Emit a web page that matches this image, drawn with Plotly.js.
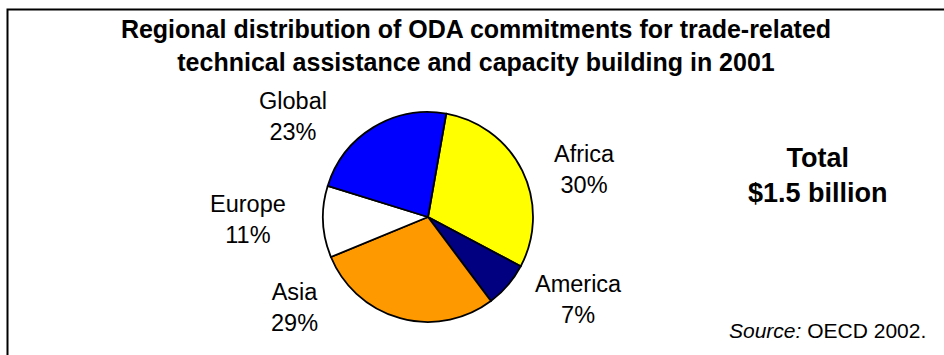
<!DOCTYPE html>
<html>
<head>
<meta charset="utf-8">
<script src="https://cdn.plot.ly/plotly-3.0.1.min.js"></script>
<style>html,body{margin:0;padding:0;background:#fff;}#chart{width:944px;height:355px;}</style>
</head>
<body>
<div id="chart"></div>
<script>
const regions = ["Africa", "America", "Asia", "Europe", "Global"];
const shares = [30, 7, 29, 11, 23];
const sliceColors = ["#FFFF00", "#000080", "#FF9900", "#FFFFFF", "#0000FF"];
const titleLines = ["Regional distribution of ODA commitments for trade-related",
                    "technical assistance and capacity building in 2001"];
const totalLines = ["Total", "$1.5 billion"];
const sourceText = ["Source:", "OECD 2002."];

const W = 944, H = 355;
const px = x => x / W;
const py = y => 1 - y / H;

// label centre positions in pixels (layout only)
const labelPos = {
  "Africa":  [584, 169],
  "America": [578, 299],
  "Asia":    [294, 307],
  "Europe":  [248, 220],
  "Global":  [293, 116]
};

const FONT = "Liberation Sans, Arial, Helvetica, sans-serif";

const annotations = regions.map((r, i) => ({
  text: r + "<br>" + shares[i] + "%",
  x: px(labelPos[r][0]), y: py(labelPos[r][1]),
  xref: "paper", yref: "paper", xanchor: "center", yanchor: "middle",
  showarrow: false, align: "center",
  font: {family: FONT, size: 23.5, color: "#000"}
}));

annotations.push({
  text: "<b>" + totalLines[0] + "<br>" + totalLines[1] + "</b>",
  x: px(818), y: py(175), xref: "paper", yref: "paper",
  xanchor: "center", yanchor: "middle", showarrow: false, align: "center",
  font: {family: FONT, size: 27, color: "#000"}
});
annotations.push({
  text: "<i>" + sourceText[0] + "</i> " + sourceText[1],
  x: px(928), y: py(330), xref: "paper", yref: "paper",
  xanchor: "right", yanchor: "middle", showarrow: false,
  font: {family: FONT, size: 21, color: "#000"}
});

const cx = 428, cy = 217, R = 105;

const data = [{
  type: "pie",
  labels: regions,
  values: shares,
  sort: false,
  direction: "clockwise",
  rotation: 10,
  textinfo: "none",
  hoverinfo: "label+percent",
  marker: {colors: sliceColors, line: {color: "#000", width: 1.8}},
  domain: {x: [px(cx - R), px(cx + R)], y: [py(cy + R), py(cy - R)]},
  showlegend: false
}];

const layout = {
  width: W, height: H,
  margin: {l: 0, r: 0, t: 0, b: 0},
  paper_bgcolor: "#fff",
  showlegend: false,
  title: {
    text: "<b>" + titleLines[0] + "<br>" + titleLines[1] + "</b>",
    x: px(476), xanchor: "center",
    y: py(38), yanchor: "middle",
    font: {family: FONT, size: 25, color: "#000"}
  },
  annotations: annotations,
  shapes: [{
    type: "rect", xref: "paper", yref: "paper",
    x0: px(7.5), x1: 1.2, y0: -0.2, y1: py(9.5),
    line: {color: "#000", width: 2}, fillcolor: "rgba(0,0,0,0)"
  }]
};

Plotly.newPlot("chart", data, layout, {staticPlot: true});
</script>
</body>
</html>
